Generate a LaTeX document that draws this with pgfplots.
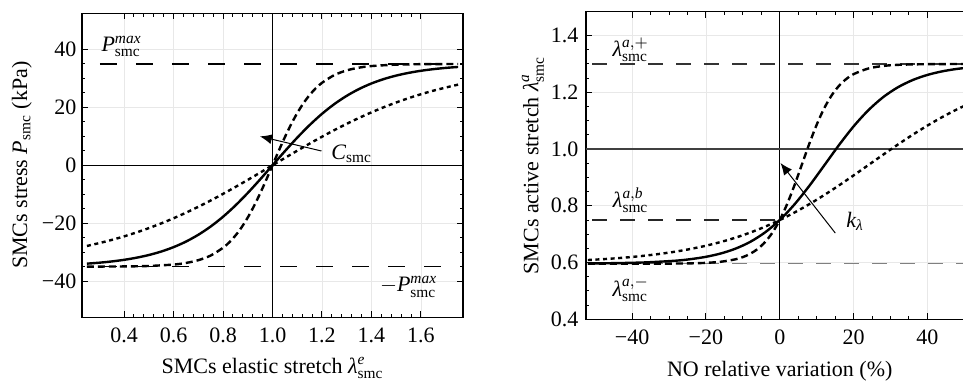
\documentclass[border=0pt]{standalone}
\usepackage{amsmath}
\usepackage{fontspec}
\setmainfont{Liberation Serif}
\usepackage{pgfplots}
\pgfplotsset{compat=1.18}
\usetikzlibrary{arrows.meta}
\begin{document}
\fontsize{11}{13}\selectfont
\begin{tikzpicture}
\pgfplotsset{
  myax/.style={
    scale only axis,
    axis line style={line width=0.6pt},
    tick style={black, line width=0.5pt},
    major tick length=3pt, minor tick length=1.6pt,
    tick align=inside,
    grid=major, grid style={gray!18, line width=0.4pt},
    font=\fontsize{11}{13}\selectfont,
    xticklabel style={yshift=-1.5pt},
    /pgf/number format/assume math mode=true,
  },
  solidc/.style={black, line width=1.2pt, smooth},
  dashc/.style={black, line width=1.2pt, smooth, dash pattern=on 3.5pt off 2pt},
  dotc/.style={black, line width=1.2pt, smooth, dash pattern=on 2pt off 1.8pt},
}
% ---------------- left panel ----------------
\begin{axis}[myax,
  at={(41pt,31.85pt)}, anchor=south west,
  width=190.5pt, height=152pt,
  xmin=0.23, xmax=1.77, ymin=-52.5, ymax=52.5,
  xtick={0.4,0.6,0.8,1.0,1.2,1.4,1.6},
  xticklabels={0.4,0.6,0.8,1.0,1.2,1.4,1.6},
  ytick={-40,-20,0,20,40},
  yticklabels={−40,−20,0,20,40},
  yticklabel style={xshift=1pt},
  minor x tick num=4, minor y tick num=3,
  xlabel={SMCs elastic stretch $\textit{λ}^{\mathit{e}}_{\mathrm{smc}}$},
  ylabel={SMCs stress $\mathit{P}_{\mathrm{smc}}$ (kPa)},
  xlabel style={at={(axis description cs:0.5,-0.184)}, anchor=base},
  ylabel style={at={(axis description cs:-0.158,0.5)}, anchor=center},
]
\addplot[black, line width=0.5pt] coordinates {(1,-52.5)(1,52.5)};
\addplot[black, line width=0.5pt] coordinates {(0.23,0)(1.77,0)};
\addplot[black, line width=0.6pt, dash pattern=on 8.5pt off 9.5pt, dash phase=-9pt] coordinates {(0.23,35)(1.77,35)};
\addplot[black, line width=0.6pt, dash pattern=on 8.5pt off 9.5pt, dash phase=-9pt] coordinates {(0.23,-35)(1.77,-35)};
% dotted
\addplot[dotc] coordinates {(0.25,-27.86)(0.3,-26.86)(0.35,-25.77)(0.4,-24.55)(0.45,-23.19)(0.5,-21.7)(0.55,-20.07)(0.6,-18.29)(0.65,-16.38)(0.7,-14.33)(0.75,-12.16)(0.8,-9.87)(0.85,-7.49)(0.9,-5.04)(0.95,-2.53)(1,0)(1.05,2.53)(1.1,5.04)(1.15,7.49)(1.2,9.87)(1.25,12.16)(1.3,14.33)(1.35,16.38)(1.4,18.29)(1.45,20.07)(1.5,21.7)(1.55,23.19)(1.6,24.55)(1.65,25.77)(1.7,26.86)(1.75,27.86)};
% solid
\addplot[solidc] coordinates {(0.25,-33.97)(0.3,-33.64)(0.35,-33.21)(0.4,-32.65)(0.45,-31.92)(0.5,-30.99)(0.55,-29.79)(0.6,-28.27)(0.65,-26.36)(0.7,-24.0)(0.75,-21.15)(0.8,-17.78)(0.85,-13.89)(0.9,-9.55)(0.95,-4.87)(1,0)(1.05,4.87)(1.1,9.55)(1.15,13.89)(1.2,17.78)(1.25,21.15)(1.3,24.0)(1.35,26.36)(1.4,28.27)(1.45,29.79)(1.5,30.99)(1.55,31.92)(1.6,32.65)(1.65,33.21)(1.7,33.64)(1.75,33.97)};
% dashed
\addplot[dashc] coordinates {(0.25,-34.99)(0.4,-34.93)(0.5,-34.77)(0.6,-34.28)(0.65,-33.73)(0.7,-32.78)(0.75,-31.17)(0.8,-28.49)(0.825,-26.62)(0.85,-24.28)(0.875,-21.43)(0.9,-18.04)(0.925,-14.11)(0.95,-9.71)(0.975,-4.95)(1,0)(1.025,4.95)(1.05,9.71)(1.075,14.11)(1.1,18.04)(1.125,21.43)(1.15,24.28)(1.175,26.62)(1.2,28.49)(1.25,31.17)(1.3,32.78)(1.35,33.73)(1.4,34.28)(1.5,34.77)(1.6,34.93)(1.75,34.99)};
\node at (axis cs:0.39,41) {$\mathit{P}^{\mathit{max}}_{\mathrm{smc}}$};
\node at (axis cs:1.55,-42) {$-\mathit{P}^{\mathit{max}}_{\mathrm{smc}}$};
\node at (axis cs:1.32,4.0) {$\mathit{C}_{\mathrm{smc}}$};
\draw[line width=0.5pt, -{Latex[length=6pt,width=5pt]}] (axis cs:1.198,4.94) -- (axis cs:0.949,10.0);
\end{axis}
% ---------------- right panel ----------------
\begin{axis}[myax,
  at={(293pt,30.85pt)}, anchor=south west,
  width=193.75pt, height=153.9pt,
  xmin=-52.5, xmax=52.5, ymin=0.4, ymax=1.485,
  xtick={-40,-20,0,20,40},
  xticklabels={−40,−20,0,20,40},
  ytick={0.4,0.6,0.8,1.0,1.2,1.4},
  yticklabels={0.4,0.6,0.8,1.0,1.2,1.4},
  minor x tick num=3, minor y tick num=3,
  xlabel={NO relative variation (\%)},
  ylabel={SMCs active stretch $\textit{λ}^{\mathit{a}}_{\mathrm{smc}}$},
  xlabel style={at={(axis description cs:0.5,-0.1865)}, anchor=base},
  ylabel style={at={(axis description cs:-0.137,0.5)}, anchor=center},
]
\addplot[black, line width=0.5pt] coordinates {(0,0.4)(0,1.485)};
\addplot[black!75, line width=0.6pt] coordinates {(-52.5,1.0)(52.5,1.0)};
\addplot[black!80, line width=0.6pt, dash pattern=on 7.5pt off 6.5pt, dash phase=-3pt] coordinates {(-52.5,1.3)(52.5,1.3)};
\addplot[black!85, line width=0.6pt, dash pattern=on 7.5pt off 6.5pt, dash phase=-3pt] coordinates {(-52.5,0.75)(0,0.75)};
\addplot[black!50, line width=0.8pt, dash pattern=on 7.5pt off 6.5pt, dash phase=-3pt] coordinates {(-52.5,0.597)(52.5,0.597)};
% dotted
\addplot[dotc] coordinates {(-52,0.609)(-48,0.6119)(-44,0.6154)(-40,0.6198)(-36,0.6251)(-32,0.6315)(-28,0.6391)(-24,0.6484)(-20,0.6594)(-16,0.6725)(-12,0.6878)(-8,0.7058)(-4,0.7264)(0,0.75)(4,0.7765)(8,0.8058)(12,0.8376)(16,0.8716)(20,0.9072)(24,0.9436)(28,0.9801)(32,1.016)(36,1.0504)(40,1.0828)(44,1.1127)(48,1.1399)(52,1.1642)};
% solid
\addplot[solidc] coordinates {(-52,0.5969)(-44,0.5981)(-36,0.6008)(-28,0.6068)(-24,0.6123)(-20,0.6203)(-16,0.632)(-12,0.649)(-8,0.673)(-4,0.7062)(0,0.75)(4,0.8052)(8,0.8703)(12,0.9415)(16,1.0133)(20,1.0799)(24,1.1369)(28,1.1829)(32,1.2178)(36,1.2433)(40,1.2614)(44,1.274)(48,1.2826)(52,1.2883)};
% dashed
\addplot[dashc] coordinates {(-52,0.596)(-40,0.596)(-30,0.5964)(-24,0.5973)(-20,0.599)(-16,0.6028)(-12,0.6115)(-10,0.6193)(-8,0.6309)(-6,0.6478)(-4,0.672)(-2,0.7053)(0,0.75)(2,0.8064)(4,0.873)(6,0.9457)(8,1.0186)(10,1.0858)(12,1.1428)(14,1.1882)(16,1.2223)(18,1.2469)(20,1.2642)(24,1.2841)(28,1.293)(32,1.297)(40,1.2994)(52,1.3)};
\node at (axis cs:-40.4,1.35) {$\textit{λ}^{\mathit{a},+}_{\mathrm{smc}}$};
\node at (axis cs:-40.4,0.82) {$\textit{λ}^{\mathit{a},\mathit{b}}_{\mathrm{smc}}$};
\node at (axis cs:-40.4,0.505) {$\textit{λ}^{\mathit{a},-}_{\mathrm{smc}}$};
\node at (axis cs:20.4,0.745) {$\mathit{k}_{\textit{λ}}$};
\draw[line width=0.5pt, -{Latex[length=6pt,width=5pt]}] (axis cs:15.05,0.704) -- (axis cs:0.2,0.951);
\end{axis}
\pgfresetboundingbox
\path[use as bounding box] (0,0) rectangle (481.5pt,190.5pt);
\end{tikzpicture}
\end{document}
